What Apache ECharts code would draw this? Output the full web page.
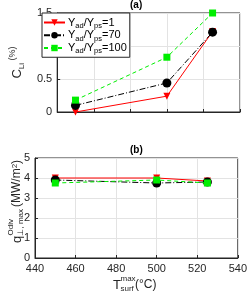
<!DOCTYPE html>
<html><head><meta charset="utf-8">
<script src="https://cdn.jsdelivr.net/npm/echarts@6/dist/echarts.min.js"></script>
<style>html,body{margin:0;padding:0;background:#fff}#c{width:250px;height:297px}</style>
</head><body><div id="c"></div>
<script>
const temps = [450, 500, 525];
const seriesNames = ['Y_ad/Y_ps=1', 'Y_ad/Y_ps=70', 'Y_ad/Y_ps=100'];
const cLi_1 = [0.00, 0.24, 1.22];
const cLi_70 = [0.10, 0.44, 1.21];
const cLi_100 = [0.18, 0.83, 1.50];
const q_1 = [4.00, 4.00, 3.85];
const q_70 = [3.90, 3.75, 3.80];
const q_100 = [3.75, 3.90, 3.75];
const xTicks = [440, 460, 480, 500, 520, 540];
const yTicksA = [0, 0.5, 1, 1.5];
const yTicksB = [0, 1, 2, 3, 4, 5];

const FONT = 'Liberation Sans';
const AX = '#262626';
const styles = [
  {color:'#ff0000', symbol:'triangle', rot:180, size:7, type:'solid'},
  {color:'#000000', symbol:'circle', rot:0, size:9, type:[6,2,1,2]},
  {color:'#00ee00', symbol:'rect', rot:0, size:7, type:[4,3]}
];
const pairs = (ys) => temps.map((t,i)=>[t, ys[i]]);

function mkSeries(data, i, gi){
  const s = styles[i];
  return {
    name: seriesNames[i], type:'line', xAxisIndex:gi, yAxisIndex:gi,
    data: pairs(data), symbol:s.symbol, symbolRotate:s.rot, symbolSize:s.size,
    itemStyle:{color:s.color}, lineStyle:{color:s.color, width:1, type:s.type},
    animation:false, z: 2+i
  };
}
function xAx(gi, showLabels){
  return {gridIndex:gi, type:'value', min:440, max:540, interval:20,
    axisLine:{show:true, onZero:false, lineStyle:{color:AX}},
    axisTick:{show:true, inside:true, length:3, lineStyle:{color:AX}},
    axisLabel:{show:showLabels, color:AX, fontFamily:FONT, fontSize:11, margin:5},
    splitLine:{show:true, lineStyle:{color:'#e3e3e3'}}};
}
function yAx(gi, max, interval, name){
  return {gridIndex:gi, type:'value', min:0, max:max, interval:interval,
    axisLine:{show:true, lineStyle:{color:AX}},
    axisTick:{show:true, inside:true, length:3, lineStyle:{color:AX}},
    axisLabel:{color:AX, fontFamily:FONT, fontSize:11, margin:5},
    splitLine:{show:true, lineStyle:{color:'#e3e3e3'}},
    name:name, nameLocation:'middle', nameRotate:90, nameGap:21,
    nameTextStyle:{color:AX, fontFamily:FONT, fontSize:12,
      rich:{m:{fontSize:13, fontFamily:FONT, color:AX, lineHeight:18},
            s:{fontSize:8, fontFamily:FONT, color:AX, lineHeight:8, verticalAlign:'bottom'},
            p:{fontSize:9, fontFamily:FONT, color:AX, lineHeight:9, verticalAlign:'top'}}}};
}

const chart = echarts.init(document.getElementById('c'), null, {renderer:'canvas'});
chart.setOption({
  backgroundColor:'#fff',
  animation:false,
  title:[
    {text:'(a)', top:0, padding:0, textStyle:{fontSize:10, fontWeight:'bold', fontFamily:FONT, color:'#000'}, left:130},
    {text:'(b)', top:145, padding:0, textStyle:{fontSize:10, fontWeight:'bold', fontFamily:FONT, color:'#000'}, left:130}
  ],
  grid:[
    {left:35, right:10, top:13, height:99, show:true, borderColor:AX, borderWidth:1, backgroundColor:'transparent'},
    {left:35, right:10, top:158, height:100, show:true, borderColor:AX, borderWidth:1, backgroundColor:'transparent'}
  ],
  xAxis:[xAx(0,false), xAx(1,true)],
  yAxis:[yAx(0,1.5,0.5,'{m|C}{s|Li}{p| (%)}'), yAx(1,5,1,'')],
  legend:{
    data: seriesNames, orient:'vertical', left:42, top:13, padding:[4,3,2,1],
    itemWidth:21, itemHeight:8, itemGap:0,
    backgroundColor:'#fff', borderColor:AX, borderWidth:1, borderRadius:0,
    selectedMode:false,
    formatter:(n)=>{ const v=n.split('=')[1]; return '{m|Y}{s|ad}{m|/Y}{s|ps}{m|='+v+'}'; },
    textStyle:{fontFamily:FONT, fontSize:11, color:'#000', padding:[0,0,0,-2],
      rich:{m:{fontSize:11, fontFamily:FONT, color:'#000', lineHeight:14.5},
            s:{fontSize:7.5, fontFamily:FONT, color:'#000', lineHeight:6, verticalAlign:'bottom'}}}
  },
  series:[
    mkSeries(cLi_1,0,0), mkSeries(cLi_70,1,0), mkSeries(cLi_100,2,0),
    mkSeries(q_1,0,1), mkSeries(q_70,1,1), mkSeries(q_100,2,1)
  ],
  graphic:[
    {type:'group', x:17, y:243, rotation:Math.PI/2, children:[
      {type:'text', x:0, y:0, style:{text:'q', font:'13px "Liberation Sans"', fill:AX, textVerticalAlign:'middle'}},
      {type:'text', x:7.5, y:-6, style:{text:'Odiv', font:'8px "Liberation Sans"', fill:AX, textVerticalAlign:'middle'}},
      {type:'text', x:7.5, y:4, style:{text:'\u22a5, max', font:'8px "Liberation Sans"', fill:AX, textVerticalAlign:'middle'}},
      {type:'text', x:36, y:0, style:{text:'(MW/m{s|2})', font:'12px "Liberation Sans"', fill:AX, textVerticalAlign:'middle',
        rich:{s:{fontSize:8, fontFamily:FONT, fill:AX, lineHeight:6, verticalAlign:'top'}}}}
    ]},
    {type:'group', x:113, y:285, children:[
      {type:'text', x:0, y:0, style:{text:'T', font:'13px "Liberation Sans"', fill:AX, textVerticalAlign:'middle'}},
      {type:'text', x:7.5, y:-6, style:{text:'max', font:'8px "Liberation Sans"', fill:AX, textVerticalAlign:'middle'}},
      {type:'text', x:7.5, y:4, style:{text:'surf', font:'8px "Liberation Sans"', fill:AX, textVerticalAlign:'middle'}},
      {type:'text', x:22, y:0, style:{text:'(\u00b0C)', font:'12px "Liberation Sans"', fill:AX, textVerticalAlign:'middle'}}
    ]}
  ]
});
</script></body></html>
